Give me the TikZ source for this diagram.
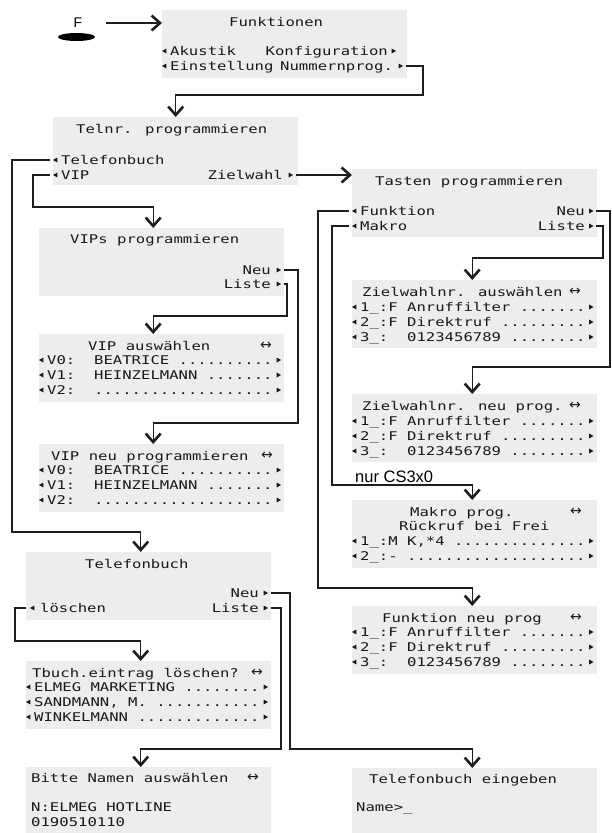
\documentclass[tikz,border=0pt]{standalone}
\usepackage{fontspec}
\setmainfont{Liberation Sans}
\newfontfamily\lcdfont[FakeStretch=1.30]{DejaVu Sans Mono}
\newfontfamily\symfont{DejaVu Sans}
\usetikzlibrary{arrows.meta,shapes.geometric}
\definecolor{panel}{RGB}{237,237,237}
\definecolor{ink}{RGB}{25,25,25}
\definecolor{wirecol}{RGB}{30,30,30}
\tikzset{
  panelbox/.style={fill=panel, inner sep=0pt, minimum width=245pt, minimum height=68pt, anchor=north west},
  lcd/.style={font=\lcdfont\fontsize{12}{13}\selectfont, text=ink, inner sep=0pt, anchor=base west},
  lcdr/.style={lcd, anchor=base east},
  bothway/.style={font=\symfont\fontsize{14}{14}\selectfont, text=ink, inner sep=0pt},
  tri/.style={isosceles triangle, isosceles triangle stretches, fill=ink, inner sep=0pt, minimum width=5pt, minimum height=4.5pt},
  trl/.style={tri, shape border rotate=180},
  trr/.style={tri, shape border rotate=0},
  wire/.style={draw=wirecol, line width=1.05pt, -{Straight Barb[length=8.5pt,width=15pt,line width=2.6pt]}},
}
\begin{document}
\begin{tikzpicture}[x=1pt,y=-1pt]
\useasboundingbox (0,0) rectangle (611,833);

% function key
\node[ellipse, fill=black, inner sep=0pt, minimum width=37pt, minimum height=8pt] (keycap) at (76.5,37) {};
\node[font=\fontsize{14}{14}\selectfont, inner sep=0pt] (fkey) at (78,23) {F};

% ---------- Funktionen
\node[panelbox] (fkt) at (162,10) {};
\node[lcd] (fkt-t) at (229,26) {Funktionen};
\node[trl] (fkt-l1) at (165,51) {};
\node[lcd] (fkt-a) at (170,55) {Akustik};
\node[lcdr] (fkt-k) at (388,55) {Konfiguration};
\node[trr] (fkt-r1) at (393,51) {};
\node[trl] (fkt-l2) at (165,66) {};
\node[lcd] (fkt-e) at (170,70) {Einstellung};
\node[lcd] (fkt-n) at (280,70) {Nummernprog.};
\node[trr] (fkt-r2) at (400,66) {};

% ---------- Telnr. programmieren
\node[panelbox] (telnr) at (53,117) {};
\node[lcd] (tel-t) at (76,133) {Telnr. programmieren};
\node[trl] (tel-l1) at (56,160) {};
\node[lcd] (tel-a) at (61,164) {Telefonbuch};
\node[trl] (tel-l2) at (56,175) {};
\node[lcd] (tel-b) at (61,179) {VIP};
\node[lcdr] (tel-c) at (283,179) {Zielwahl};
\node[trr] (tel-r2) at (290,175) {};

% ---------- Tasten programmieren
\node[panelbox] (tasten) at (352,169) {};
\node[lcd] (tas-t) at (375,185) {Tasten programmieren};
\node[trl] (tas-l1) at (355,211) {};
\node[lcd] (tas-a) at (360,215) {Funktion};
\node[lcdr] (tas-b) at (585,215) {Neu};
\node[trr] (tas-r1) at (590.5,211) {};
\node[trl] (tas-l2) at (355,226) {};
\node[lcd] (tas-c) at (360,230) {Makro};
\node[lcdr] (tas-d) at (585,230) {Liste};
\node[trr] (tas-r2) at (590.5,226) {};

% ---------- VIPs programmieren
\node[panelbox] (vips) at (39,228) {};
\node[lcd] (vips-t) at (70,243) {VIPs programmieren};
\node[lcdr] (vips-a) at (271,274) {Neu};
\node[trr] (vips-r1) at (278,270) {};
\node[lcdr] (vips-b) at (271,288) {Liste};
\node[trr] (vips-r2) at (278,284) {};

% ---------- VIP auswaehlen
\node[panelbox] (vipsel) at (39,334) {};
\node[lcd] (vsel-t) at (88,350) {VIP auswählen};
\node[bothway] (vsel-x) at (266,346) {↔};
\node[trl] (vsel-l1) at (42,360) {};
\node[lcd] (vsel-a) at (47,364) {V0:\ \ BEATRICE ..........};
\node[trr] (vsel-r1) at (278,360) {};
\node[trl] (vsel-l2) at (42,375) {};
\node[lcd] (vsel-b) at (47,379) {V1:\ \ HEINZELMANN .......};
\node[trr] (vsel-r2) at (278,375) {};
\node[trl] (vsel-l3) at (42,390) {};
\node[lcd] (vsel-c) at (47,394) {V2:\ \ ...................};
\node[trr] (vsel-r3) at (278,390) {};

% ---------- VIP neu programmieren
\node[panelbox] (vipneu) at (39,444) {};
\node[lcd] (vneu-t) at (51,460) {VIP neu programmieren};
\node[bothway] (vneu-x) at (267,456) {↔};
\node[trl] (vneu-l1) at (42,470) {};
\node[lcd] (vneu-a) at (47,474) {V0:\ \ BEATRICE ..........};
\node[trr] (vneu-r1) at (278,470) {};
\node[trl] (vneu-l2) at (42,485) {};
\node[lcd] (vneu-b) at (47,489) {V1:\ \ HEINZELMANN .......};
\node[trr] (vneu-r2) at (278,485) {};
\node[trl] (vneu-l3) at (42,500) {};
\node[lcd] (vneu-c) at (47,504) {V2:\ \ ...................};
\node[trr] (vneu-r3) at (278,500) {};

% ---------- Telefonbuch
\node[panelbox] (tb) at (26,552) {};
\node[lcd] (tb-t) at (85,568) {Telefonbuch};
\node[lcdr] (tb-a) at (259,597) {Neu};
\node[trr] (tb-r1) at (265,593) {};
\node[trl] (tb-l2) at (33,608) {};
\node[lcd] (tb-b) at (40,612) {löschen};
\node[lcdr] (tb-c) at (259,612) {Liste};
\node[trr] (tb-r2) at (265,608) {};

% ---------- Tbuch.eintrag loeschen
\node[panelbox] (tbdel) at (26,661) {};
\node[lcd] (tdel-t) at (32,677) {Tbuch.eintrag löschen?};
\node[bothway] (tdel-x) at (257,672.5) {↔};
\node[trl] (tdel-l1) at (29,687) {};
\node[lcd] (tdel-a) at (34,691) {ELMEG MARKETING ........};
\node[trr] (tdel-r1) at (265,687) {};
\node[trl] (tdel-l2) at (29,702) {};
\node[lcd] (tdel-b) at (34,706) {SANDMANN, M. ...........};
\node[trr] (tdel-r2) at (265,702) {};
\node[trl] (tdel-l3) at (29,717) {};
\node[lcd] (tdel-c) at (34,721) {WINKELMANN .............};
\node[trr] (tdel-r3) at (265,717) {};

% ---------- Bitte Namen auswaehlen
\node[panelbox, minimum height=70pt] (namsel) at (26,767) {};
\node[lcd] (nsel-t) at (31,782) {Bitte Namen auswählen};
\node[bothway] (nsel-x) at (253,778) {↔};
\node[lcd] (nsel-a) at (31,811) {N:ELMEG HOTLINE};
\node[lcd] (nsel-b) at (31,826) {0190510110};

% ---------- Telefonbuch eingeben
\node[panelbox, minimum height=70pt] (tbein) at (352,768) {};
\node[lcd] (tein-t) at (369,783) {Telefonbuch eingeben};
\node[lcd] (tein-a) at (356,811) {Name>\_};

% ---------- Zielwahlnr. auswaehlen
\node[panelbox] (zwsel) at (352,280) {};
\node[lcd] (zsel-t) at (362,296) {Zielwahlnr. auswählen};
\node[bothway] (zsel-x) at (575,292) {↔};
\node[trl] (zsel-l1) at (355,307) {};
\node[lcd] (zsel-a) at (360,311) {1\_:F Anruffilter .......};
\node[trr] (zsel-r1) at (590.5,307) {};
\node[trl] (zsel-l2) at (355,322) {};
\node[lcd] (zsel-b) at (360,326) {2\_:F Direktruf .........};
\node[trr] (zsel-r2) at (590.5,322) {};
\node[trl] (zsel-l3) at (355,337) {};
\node[lcd] (zsel-c) at (360,341) {3\_:\ \ 0123456789 ........};
\node[trr] (zsel-r3) at (590.5,337) {};

% ---------- Zielwahlnr. neu prog.
\node[panelbox] (zwneu) at (352,394) {};
\node[lcd] (zneu-t) at (362,410) {Zielwahlnr. neu prog.};
\node[bothway] (zneu-x) at (575,406) {↔};
\node[trl] (zneu-l1) at (355,421) {};
\node[lcd] (zneu-a) at (360,425) {1\_:F Anruffilter .......};
\node[trr] (zneu-r1) at (590.5,421) {};
\node[trl] (zneu-l2) at (355,436) {};
\node[lcd] (zneu-b) at (360,440) {2\_:F Direktruf .........};
\node[trr] (zneu-r2) at (590.5,436) {};
\node[trl] (zneu-l3) at (355,451) {};
\node[lcd] (zneu-c) at (360,455) {3\_:\ \ 0123456789 ........};
\node[trr] (zneu-r3) at (590.5,451) {};

% ---------- Makro prog.
\node[font=\fontsize{16.5}{16.5}\selectfont, inner sep=0pt, anchor=base west] (cs3x0) at (355,482) {nur CS3x0};
\node[panelbox] (makro) at (352,500) {};
\node[lcd] (mak-t) at (410,516) {Makro prog.};
\node[bothway] (mak-x) at (576,511.5) {↔};
\node[lcd] (mak-s) at (399,530) {Rückruf bei Frei};
\node[trl] (mak-l1) at (355,541) {};
\node[lcd] (mak-a) at (360,545) {1\_:M K,*4 ..............};
\node[trr] (mak-r1) at (590.5,541) {};
\node[trl] (mak-l2) at (355,556) {};
\node[lcd] (mak-b) at (360,560) {2\_:- ...................};
\node[trr] (mak-r2) at (590.5,556) {};

% ---------- Funktion neu prog
\node[panelbox] (fktneu) at (352,606) {};
\node[lcd] (fneu-t) at (382,622) {Funktion neu prog};
\node[bothway] (fneu-x) at (576,617.5) {↔};
\node[trl] (fneu-l1) at (355,632) {};
\node[lcd] (fneu-a) at (360,636) {1\_:F Anruffilter .......};
\node[trr] (fneu-r1) at (590.5,632) {};
\node[trl] (fneu-l2) at (355,647) {};
\node[lcd] (fneu-b) at (360,651) {2\_:F Direktruf .........};
\node[trr] (fneu-r2) at (590.5,647) {};
\node[trl] (fneu-l3) at (355,662) {};
\node[lcd] (fneu-c) at (360,666) {3\_:\ \ 0123456789 ........};
\node[trr] (fneu-r3) at (590.5,662) {};

% ---------- connectors
\draw[wire] ([xshift=24pt]fkey.east) -- (fkt.west |- fkey);
\draw[wire] ([xshift=2pt]fkt-r2.east) -| (423,95) -| (telnr.north);
\draw[wire] ([xshift=-2pt]tel-l1.west) -| (12,532) -| ([xshift=-8pt]tb.north);
\draw[wire] ([xshift=-2pt]tel-l2.west) -| (33,207) -| ([xshift=-8.5pt]vips.north);
\draw[wire] ([xshift=2pt]tel-r2.east) -- (tasten.west |- tel-r2);
\draw[wire] ([xshift=2pt]tas-r1.east) -| (610,367) -| ([xshift=-2.5pt]zwneu.north);
\draw[wire] ([xshift=2pt]tas-r2.east) -| (603,258) -| ([xshift=-2.5pt]zwsel.north);
\draw[wire] ([xshift=-2pt]tas-l1.west) -| (318,588) -| ([xshift=-2.5pt]fktneu.north);
\draw[wire] ([xshift=-2pt]tas-l2.west) -| (332,485) -| ([xshift=-2.5pt]makro.north);
\draw[wire] ([xshift=2pt]vips-r1.east) -| (298,423) -| ([xshift=-8.5pt]vipneu.north);
\draw[wire] ([xshift=2pt]vips-r2.east) -| (287,316) -| ([xshift=-8.5pt]vipsel.north);
\draw[wire] ([xshift=2pt]tb-r1.east) -| (290,749) -| ([xshift=-2.5pt]tbein.north);
\draw[wire] ([xshift=2pt]tb-r2.east) -| (281,749) -| ([xshift=-8pt]namsel.north);
\draw[wire] (tb.west |- tb-l2) -| (15,641) -| ([xshift=-8pt]tbdel.north);
\end{tikzpicture}
\end{document}
